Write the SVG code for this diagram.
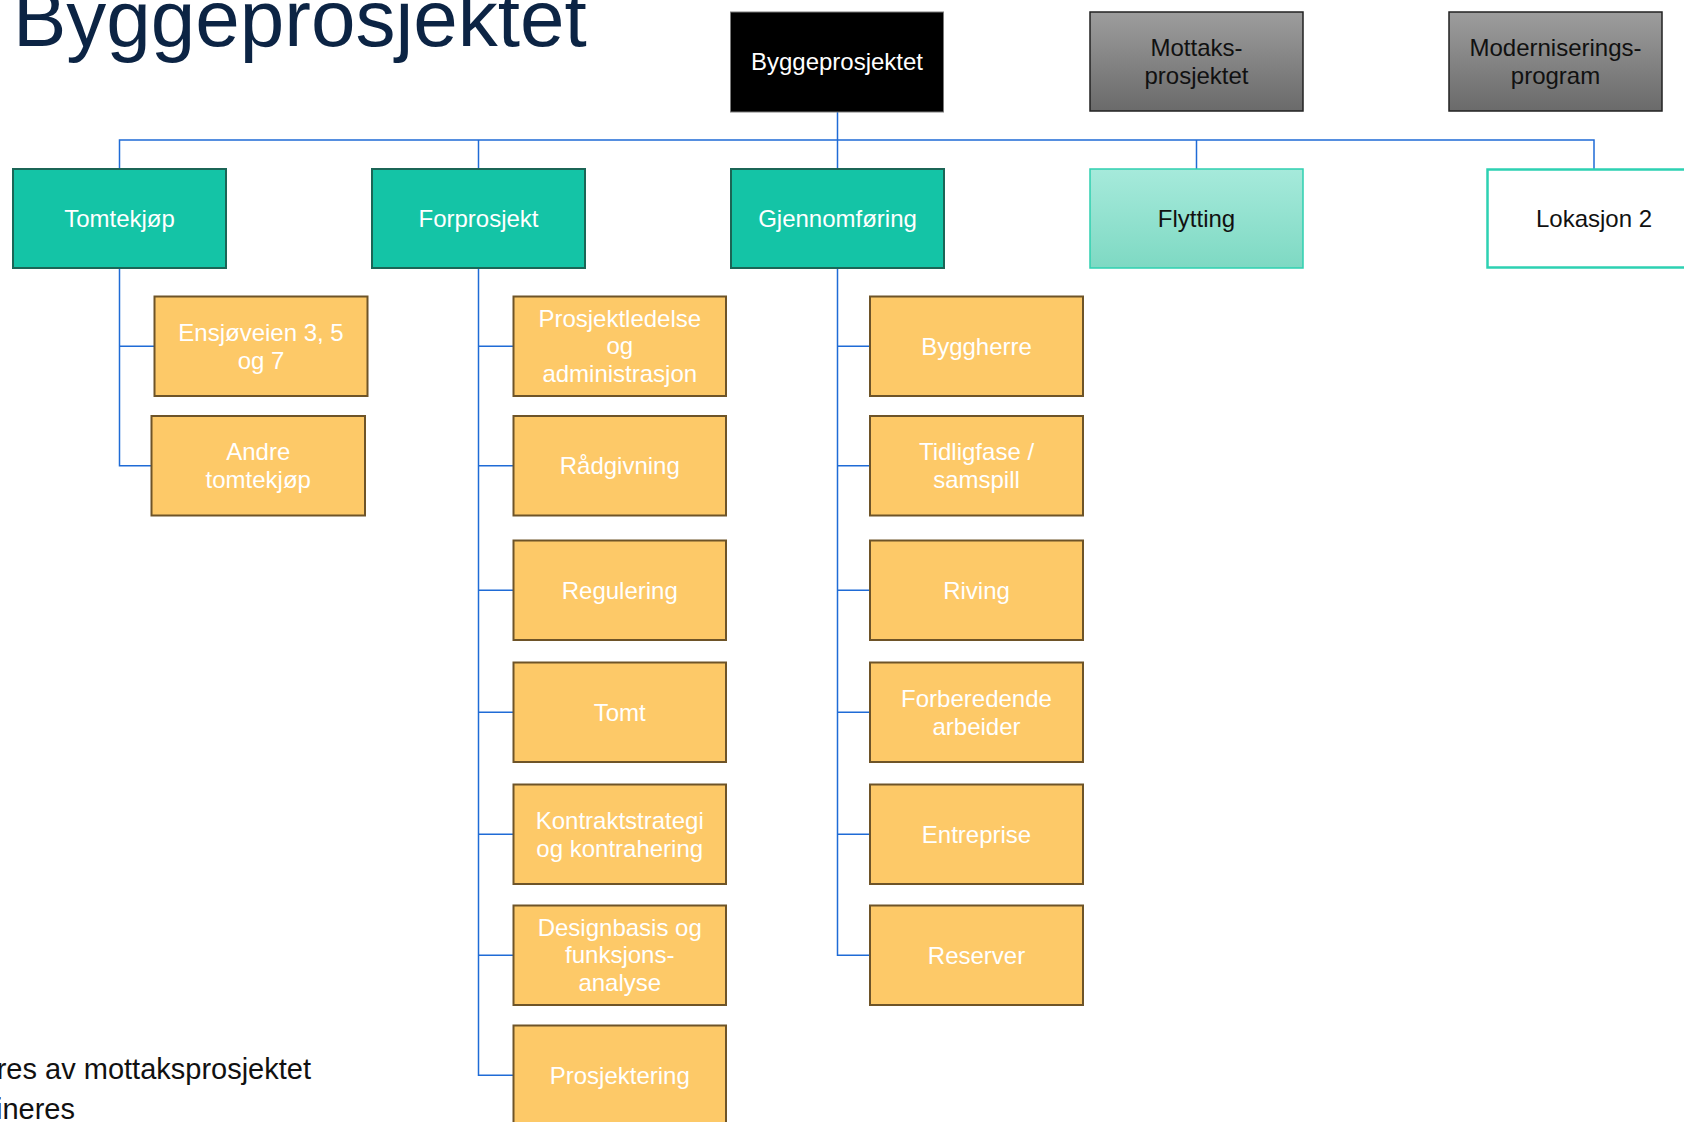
<svg xmlns="http://www.w3.org/2000/svg" width="1684" height="1122" viewBox="0 0 1684 1122">
<defs>
<linearGradient id="gGray" x1="0" y1="0" x2="0" y2="1">
<stop offset="0" stop-color="#9d9d9d"/>
<stop offset="1" stop-color="#6a6a6a"/>
</linearGradient>
<linearGradient id="gMint" x1="0" y1="0" x2="0" y2="1">
<stop offset="0" stop-color="#a6eadb"/>
<stop offset="1" stop-color="#7ed9c3"/>
</linearGradient>
<style>
text{font-family:"Liberation Sans",Arial,sans-serif;font-size:24px;text-anchor:middle}
.w{fill:#ffffff}
.k{fill:#111111}
.teal{fill:#14c4a6;stroke:#1b6556;stroke-width:2}
.org{fill:#fdc968;stroke:#6e5428;stroke-width:2}
.gray{fill:url(#gGray);stroke:#222222;stroke-width:1.5}
.blk{fill:#000000;stroke:#7a7a7a;stroke-width:1}
.mint{fill:url(#gMint);stroke:#2fd0b0;stroke-width:1.5}
.wht{fill:#ffffff;stroke:#2dd1b2;stroke-width:2.5}
.ln{fill:none;stroke:#1f6bd6;stroke-width:1.5}
</style>
</defs>
<rect width="1684" height="1122" fill="#ffffff"/>
<text x="13" y="46" style="font-size:80px;text-anchor:start;fill:#0c2444">Byggeprosjektet</text>
<text x="311" y="1079" style="font-size:29px;text-anchor:end;fill:#111">res av mottaksprosjektet</text>
<text x="75" y="1119" style="font-size:29px;text-anchor:end;fill:#111">ineres</text>

<g id="connectors">
<path class="ln" d="M837.5 112 V169"/>
<path class="ln" d="M119.5 169 V140 H1594 V169"/>
<path class="ln" d="M478.5 140 V169"/>
<path class="ln" d="M1196.5 140 V169"/>
<path class="ln" d="M119.5 268 V465.75 H151.5 M119.5 346.25 H154.5"/>
<path class="ln" d="M478.5 268 V1075.25 H513.5 M478.5 346.25 H513.5 M478.5 465.75 H513.5 M478.5 590.25 H513.5 M478.5 712.25 H513.5 M478.5 834.25 H513.5 M478.5 955.25 H513.5"/>
<path class="ln" d="M837.5 268 V955.25 H870 M837.5 346.25 H870 M837.5 465.75 H870 M837.5 590.25 H870 M837.5 712.25 H870 M837.5 834.25 H870"/>
</g>

<g id="n-byggeprosjektet"><rect class="blk" x="730.5" y="12" width="213" height="100"/><text class="w" x="837" y="70">Byggeprosjektet</text></g>
<g id="n-mottaks"><rect class="gray" x="1090" y="12" width="213" height="99"/><text class="k" x="1196.5" y="56">Mottaks-</text><text class="k" x="1196.5" y="83.5">prosjektet</text></g>
<g id="n-modern"><rect class="gray" x="1449" y="12" width="213" height="99"/><text class="k" x="1555.5" y="56">Moderniserings-</text><text class="k" x="1555.5" y="83.5">program</text></g>

<g id="n-tomtekjop"><rect class="teal" x="13" y="169" width="213" height="99"/><text class="w" x="119.5" y="227">Tomtekjøp</text></g>
<g id="n-forprosjekt"><rect class="teal" x="372" y="169" width="213" height="99"/><text class="w" x="478.5" y="227">Forprosjekt</text></g>
<g id="n-gjennomforing"><rect class="teal" x="731" y="169" width="213" height="99"/><text class="w" x="837.5" y="227">Gjennomføring</text></g>
<g id="n-flytting"><rect class="mint" x="1090" y="169" width="213" height="99"/><text class="k" x="1196.5" y="227">Flytting</text></g>
<g id="n-lokasjon2"><rect class="wht" x="1487.5" y="169.5" width="213" height="98"/><text class="k" x="1594" y="227">Lokasjon 2</text></g>

<g id="n-ensjoveien"><rect class="org" x="154.5" y="296.5" width="213" height="99.5"/><text class="w" x="261" y="340.75">Ensjøveien 3, 5</text><text class="w" x="261" y="368.75">og 7</text></g>
<g id="n-andre"><rect class="org" x="151.5" y="416" width="213.5" height="99.5"/><text class="w" x="258.25" y="460.25">Andre</text><text class="w" x="258.25" y="488.25">tomtekjøp</text></g>

<g id="n-prosjektledelse"><rect class="org" x="513.5" y="296.5" width="212.5" height="99.5"/><text class="w" x="619.75" y="326.75">Prosjektledelse</text><text class="w" x="619.75" y="354.25">og</text><text class="w" x="619.75" y="381.75">administrasjon</text></g>
<g id="n-radgivning"><rect class="org" x="513.5" y="416" width="212.5" height="99.5"/><text class="w" x="619.75" y="474.25">Rådgivning</text></g>
<g id="n-regulering"><rect class="org" x="513.5" y="540.5" width="212.5" height="99.5"/><text class="w" x="619.75" y="598.75">Regulering</text></g>
<g id="n-tomt"><rect class="org" x="513.5" y="662.5" width="212.5" height="99.5"/><text class="w" x="619.75" y="720.75">Tomt</text></g>
<g id="n-kontrakt"><rect class="org" x="513.5" y="784.5" width="212.5" height="99.5"/><text class="w" x="619.75" y="828.75">Kontraktstrategi</text><text class="w" x="619.75" y="856.75">og kontrahering</text></g>
<g id="n-designbasis"><rect class="org" x="513.5" y="905.5" width="212.5" height="99.5"/><text class="w" x="619.75" y="935.75">Designbasis og</text><text class="w" x="619.75" y="963.25">funksjons-</text><text class="w" x="619.75" y="990.75">analyse</text></g>
<g id="n-prosjektering"><rect class="org" x="513.5" y="1025.5" width="212.5" height="99.5"/><text class="w" x="619.75" y="1083.75">Prosjektering</text></g>

<g id="n-byggherre"><rect class="org" x="870" y="296.5" width="213" height="99.5"/><text class="w" x="976.5" y="354.75">Byggherre</text></g>
<g id="n-tidligfase"><rect class="org" x="870" y="416" width="213" height="99.5"/><text class="w" x="976.5" y="460.25">Tidligfase /</text><text class="w" x="976.5" y="488.25">samspill</text></g>
<g id="n-riving"><rect class="org" x="870" y="540.5" width="213" height="99.5"/><text class="w" x="976.5" y="598.75">Riving</text></g>
<g id="n-forberedende"><rect class="org" x="870" y="662.5" width="213" height="99.5"/><text class="w" x="976.5" y="706.75">Forberedende</text><text class="w" x="976.5" y="734.75">arbeider</text></g>
<g id="n-entreprise"><rect class="org" x="870" y="784.5" width="213" height="99.5"/><text class="w" x="976.5" y="842.75">Entreprise</text></g>
<g id="n-reserver"><rect class="org" x="870" y="905.5" width="213" height="99.5"/><text class="w" x="976.5" y="963.75">Reserver</text></g>
</svg>
